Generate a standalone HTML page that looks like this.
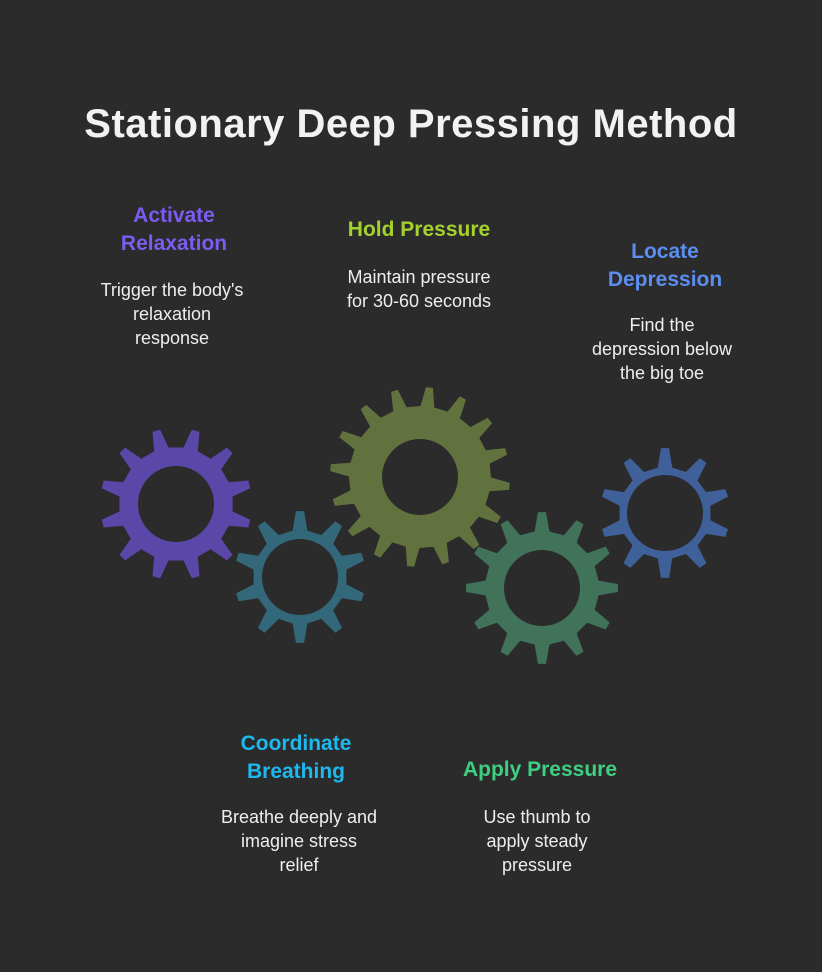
<!DOCTYPE html>
<html><head><meta charset="utf-8"><style>
html,body{margin:0;padding:0;background:#2b2b2b;}
body{width:822px;height:972px;position:relative;overflow:hidden;font-family:"Liberation Sans",sans-serif;}
.t{position:absolute;text-align:center;transform:translateX(-50%);white-space:nowrap;}
h1{position:absolute;left:0;width:822px;top:102px;margin:0;text-align:center;color:#f2f2f2;font-size:40px;font-weight:bold;letter-spacing:0.5px;}
.h{font-weight:bold;font-size:21px;line-height:28px;}
.b{color:#eeeeee;font-size:18px;line-height:24px;}
</style></head><body>
<h1>Stationary Deep Pressing Method</h1>
<div class="t h" style="left:174px;top:202px;color:#7b5cf0">Activate<br>Relaxation</div>
<div class="t b" style="left:172px;top:278px">Trigger the body's<br>relaxation<br>response</div>
<div class="t h" style="left:419px;top:216px;color:#a3d12d">Hold Pressure</div>
<div class="t b" style="left:419px;top:265px">Maintain pressure<br>for 30-60 seconds</div>
<div class="t h" style="left:665px;top:238px;color:#5b8ef0">Locate<br>Depression</div>
<div class="t b" style="left:662px;top:313px">Find the<br>depression below<br>the big toe</div>
<div class="t h" style="left:296px;top:730px;color:#1cb8ee">Coordinate<br>Breathing</div>
<div class="t b" style="left:299px;top:805px">Breathe deeply and<br>imagine stress<br>relief</div>
<div class="t h" style="left:540px;top:756px;color:#3ecf80">Apply Pressure</div>
<div class="t b" style="left:537px;top:805px">Use thumb to<br>apply steady<br>pressure</div>
<svg id="g" width="822" height="972" style="position:absolute;left:0;top:0"></svg>
<script>
var gears=[[176,504,76,12,'#5b47a8',15],[300,577,66,10,'#33687a',0],[420,477,90,16,'#62723f',6],[542,588,76,12,'#41735a',0],[665,513,65,10,'#40609a',0]];
var s='';
gears.forEach(function(g){
 var cx=g[0],cy=g[1],R=g[2],n=g[3],rot=g[5]*Math.PI/180,r=R-19,p=[];
 for(var i=0;i<n;i++){
  var a=rot-Math.PI/2+i*2*Math.PI/n,st=2*Math.PI/n;
  var pts=[[r,a-st*0.25],[R,a-st*0.1],[R,a+st*0.1],[r,a+st*0.25]];
  pts.forEach(function(q){p.push((cx+q[0]*Math.cos(q[1])).toFixed(1)+','+(cy+q[0]*Math.sin(q[1])).toFixed(1));});
 }
 var d='M'+p.join('L')+'Z M'+(cx+38)+','+cy+' a38,38 0 1,0 -76,0 a38,38 0 1,0 76,0Z';
 s+='<path d="'+d+'" fill="'+g[4]+'" fill-rule="evenodd"/>';
});
document.getElementById('g').innerHTML=s;
</script>
</body></html>
